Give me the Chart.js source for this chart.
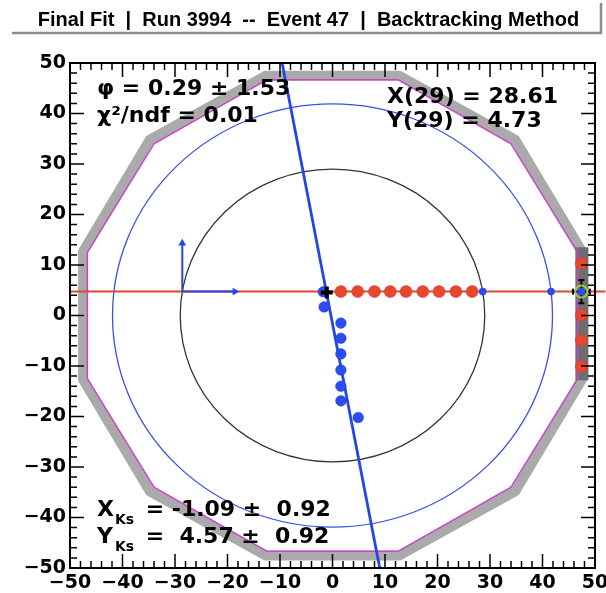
<!DOCTYPE html>
<html><head><meta charset="utf-8">
<script src="https://cdn.jsdelivr.net/npm/chart.js@4/dist/chart.umd.min.js"></script>
<style>html,body{margin:0;padding:0;background:#fff;}</style>
</head><body>
<canvas id="c" width="606" height="593"></canvas>
<script>
// ---------- data ----------
const TITLE = 'Final Fit  |  Run 3994  --  Event 47  |  Backtracking Method';
const X_TICKS = [-50,-40,-30,-20,-10,0,10,20,30,40,50];
const X_TICK_LABELS = ['\u221250','\u221240','\u221230','\u221220','\u221210','0','10','20','30','40','50'];
const Y_TICKS = [-50,-40,-30,-20,-10,0,10,20,30,40,50];
const Y_TICK_LABELS = ['\u221250','\u221240','\u221230','\u221220','\u221210','0','10','20','30','40','50'];

// detector outline (dodecagon)
const DETECTOR_X = [47.5, 34.8, 12.7, -12.7, -34.8, -47.5, -47.5, -34.8, -12.7, 12.7, 34.8, 47.5, 47.5];
const DETECTOR_Y = [12.7, 34.8, 47.5, 47.5, 34.8, 12.7, -12.7, -34.8, -47.5, -47.5, -34.8, -12.7, 12.7];
// fired module strip on the right
const STRIP_X = [47.5, 47.5];
const STRIP_Y = [13.5, -12.8];
// inner (magenta) outline
const INNER_X = [46.7, 34.0, 12.5, -12.5, -34.0, -46.7, -46.7, -34.0, -12.5, 12.5, 34.0, 46.7, 46.7];
const INNER_Y = [12.5, 34.0, 46.7, 46.7, 34.0, 12.5, -12.5, -34.0, -46.7, -46.7, -34.0, -12.5, 12.5];
// circles (center x, center y, radius)
const CIRCLE_CX = [0, 0];
const CIRCLE_CY = [0, 0];
const CIRCLE_R = [29, 41.9];
const CIRCLE_COLORS = ['#333333', '#3a4fe6'];

// horizontal (red) track
const RED_TRACK_X = [-50, 52];
const RED_TRACK_Y = [4.73, 4.73];
// steep (blue) track
const BLUE_TRACK_X = [-9.6, 9.0];
const BLUE_TRACK_Y = [50, -50];

// hits
const RED_HITS_X = [1.6, 4.8, 8.0, 11.0, 14.0, 17.2, 20.3, 23.5, 26.6, 47.4, 47.4, 47.4, 47.4];
const RED_HITS_Y = [4.73, 4.73, 4.73, 4.73, 4.73, 4.73, 4.73, 4.73, 4.73, 10.3, 0.1, -4.9, -10.1];
const BLUE_HITS_X = [-1.75, -1.6, 1.6, 1.6, 1.6, 1.6, 1.6, 1.6, 4.9];
const BLUE_HITS_Y = [4.7, 1.7, -1.5, -4.5, -7.6, -10.8, -14.0, -16.9, -20.2];
const CROSS_X = [28.61, 41.63, 47.4];
const CROSS_Y = [4.73, 4.73, 4.73];

// vertex and arrows
const VERTEX_X = [-1.09];
const VERTEX_Y = [4.57];
const ARROW_ORIGIN = [-28.61, 4.73];
const ARROW_UP_END = [-28.61, 14.3];
const ARROW_RIGHT_END = [-18.6, 4.73];

// end-point marker with errors
const END_X = [47.4];
const END_Y = [4.73];
const END_ERR_X = [1.6];
const END_ERR_Y = [2.3];

// ---------- helpers ----------
const pts = (xs, ys) => xs.map((v, i) => ({x: v, y: ys[i]}));

const lineDs = (data, color, width, order, extra) => Object.assign({
  data, showLine: true, borderColor: color, borderWidth: width, pointRadius: 0,
  fill: false, tension: 0, order
}, extra || {});

const datasets = [
  lineDs(pts(DETECTOR_X, DETECTOR_Y), '#aaaaaa', 10, 100, {borderJoinStyle: 'miter'}),
  lineDs(pts(STRIP_X, STRIP_Y), '#6e6e6e', 13, 99, {borderCapStyle: 'butt'}),
  lineDs(pts(INNER_X, INNER_Y), '#cc44cc', 1.5, 98),
  lineDs(pts(RED_TRACK_X, RED_TRACK_Y), '#dc4a2e', 2, 90, {clip: false}),
  lineDs(pts(BLUE_TRACK_X, BLUE_TRACK_Y), '#2446e6', 2.8, 89),
  lineDs([{x: ARROW_ORIGIN[0], y: ARROW_ORIGIN[1]}, {x: ARROW_UP_END[0], y: ARROW_UP_END[1]}], '#2446e6', 2, 80,
    {pointRadius: [0, 4.5], pointStyle: 'triangle', pointRotation: 0, pointBackgroundColor: '#2446e6', pointBorderWidth: 0}),
  lineDs([{x: ARROW_ORIGIN[0], y: ARROW_ORIGIN[1]}, {x: ARROW_RIGHT_END[0], y: ARROW_RIGHT_END[1]}], '#2446e6', 2, 80,
    {pointRadius: [0, 4.5], pointStyle: 'triangle', pointRotation: 90, pointBackgroundColor: '#2446e6', pointBorderWidth: 0}),
  {data: pts(RED_HITS_X, RED_HITS_Y), showLine: false, pointRadius: 6, pointBackgroundColor: '#e8472d',
    pointBorderColor: '#c93a22', pointBorderWidth: 0.5, order: 70},
  {data: pts(BLUE_HITS_X, BLUE_HITS_Y), showLine: false, pointRadius: 5.3, pointBackgroundColor: '#2a4cf0',
    pointBorderColor: '#1e3cc8', pointBorderWidth: 0.5, order: 69},
  // end marker: errors, green ring
  lineDs([{x: END_X[0], y: END_Y[0] - END_ERR_Y[0]}, {x: END_X[0], y: END_Y[0] + END_ERR_Y[0]}], '#000000', 2, 60,
    {pointRadius: 3, pointStyle: 'line', pointBorderColor: '#000', pointBorderWidth: 2}),
  lineDs([{x: END_X[0] - END_ERR_X[0], y: END_Y[0]}, {x: END_X[0] + END_ERR_X[0], y: END_Y[0]}], '#000000', 2, 60,
    {pointRadius: 3, pointStyle: 'line', pointRotation: 90, pointBorderColor: '#000', pointBorderWidth: 2}),
  {data: pts(END_X, END_Y), showLine: false, pointRadius: 6, pointBackgroundColor: 'rgba(0,0,0,0)',
    pointBorderColor: '#8fd33a', pointBorderWidth: 2, order: 55},
  {data: pts(CROSS_X, CROSS_Y), showLine: false, pointRadius: 3.8, pointBackgroundColor: '#2a4cf0',
    pointBorderWidth: 0, order: 50},
  {data: pts(VERTEX_X, VERTEX_Y), showLine: false, pointStyle: 'cross', pointRadius: 6,
    pointBorderColor: '#000000', pointBorderWidth: 4, order: 40}
];

const TXT_FONT = 'bold 22px "DejaVu Sans"';
const SUB_FONT = 'bold 14px "DejaVu Sans"';

const drawPlugin = {
  id: 'rootStyle',
  beforeDatasetsDraw(chart) {
    const {ctx, chartArea: a, scales: {x, y}} = chart;
    ctx.save();
    ctx.beginPath(); ctx.rect(a.left, a.top, a.right - a.left, a.bottom - a.top); ctx.clip();
    CIRCLE_R.forEach((r, i) => {
      const cx = x.getPixelForValue(CIRCLE_CX[i]);
      const cy = y.getPixelForValue(CIRCLE_CY[i]);
      const rx = Math.abs(x.getPixelForValue(CIRCLE_CX[i] + r) - cx);
      const ry = Math.abs(y.getPixelForValue(CIRCLE_CY[i] + r) - cy);
      ctx.beginPath();
      ctx.ellipse(cx, cy, rx, ry, 0, 0, Math.PI * 2);
      ctx.strokeStyle = CIRCLE_COLORS[i];
      ctx.lineWidth = 1.3;
      ctx.stroke();
    });
    ctx.restore();
  },
  afterDraw(chart) {
    const {ctx, chartArea: a, scales: {x, y}} = chart;
    ctx.save();
    // frame
    ctx.strokeStyle = '#000'; ctx.lineWidth = 2;
    ctx.strokeRect(a.left, a.top, a.right - a.left, a.bottom - a.top);
    // ticks (inside, all four sides)
    ctx.lineWidth = 1.5;
    ctx.beginPath();
    for (let v = X_TICKS[0]; v <= X_TICKS[X_TICKS.length - 1] + 1e-9; v += 2) {
      const major = X_TICKS.includes(v);
      const len = major ? 14 : 7;
      const px = x.getPixelForValue(v);
      ctx.moveTo(px, a.bottom); ctx.lineTo(px, a.bottom - len);
      ctx.moveTo(px, a.top); ctx.lineTo(px, a.top + len);
    }
    for (let v = Y_TICKS[0]; v <= Y_TICKS[Y_TICKS.length - 1] + 1e-9; v += 2) {
      const major = Y_TICKS.includes(v);
      const len = major ? 14 : 7;
      const py = y.getPixelForValue(v);
      ctx.moveTo(a.left, py); ctx.lineTo(a.left + len, py);
      ctx.moveTo(a.right, py); ctx.lineTo(a.right - len, py);
    }
    ctx.stroke();

    // texts
    ctx.fillStyle = '#000';
    ctx.textBaseline = 'alphabetic';
    ctx.textAlign = 'left';
    ctx.font = TXT_FONT;
    ctx.fillText('\u03C6 = 0.29 \u00B1 1.53', 97, 95);
    ctx.fillText('\u03C7\u00B2/ndf = 0.01', 97, 122);
    ctx.fillText('X(29) = 28.61', 387, 103);
    ctx.fillText('Y(29) = 4.73', 387, 127);
    ctx.fillText('X', 97, 516);
    ctx.fillText('Y', 97, 543);
    ctx.font = SUB_FONT;
    ctx.fillText('Ks', 115, 524);
    ctx.fillText('Ks', 115, 551);
    ctx.font = TXT_FONT;
    ctx.fillText(' = -1.09 \u00B1  0.92', 138, 516);
    ctx.fillText(' =  4.57 \u00B1  0.92', 138, 543);

    // title box shadow
    ctx.strokeStyle = '#8c8c8c'; ctx.lineWidth = 2.5;
    ctx.beginPath();
    ctx.moveTo(12, 33); ctx.lineTo(601, 33); ctx.lineTo(601, 3);
    ctx.stroke();
    ctx.font = 'bold 20px "Liberation Sans", Arial, sans-serif';
    ctx.textAlign = 'center';
    ctx.fillText(TITLE, 308.5, 26);
    ctx.restore();
  }
};

new Chart(document.getElementById('c'), {
  type: 'scatter',
  data: {datasets},
  options: {
    responsive: false,
    animation: false,
    devicePixelRatio: 1,
    layout: {padding: {left: 20, right: 11, top: 63, bottom: 0}},
    plugins: {legend: {display: false}, tooltip: {enabled: false}, title: {display: false}},
    scales: {
      x: {
        type: 'linear', min: -50, max: 50,
        grid: {display: false, drawTicks: false},
        border: {display: false},
        afterBuildTicks: s => { s.ticks = X_TICKS.map(v => ({value: v})); },
        afterFit: s => { s.height = 25; s.paddingLeft = 0; s.paddingRight = 0; },
        ticks: {
          autoSkip: false, maxRotation: 0, padding: 4, color: '#000',
          font: {family: 'DejaVu Sans', weight: 'bold', size: 19},
          callback: (v, i) => X_TICK_LABELS[i]
        }
      },
      y: {
        type: 'linear', min: -50, max: 50,
        grid: {display: false, drawTicks: false},
        border: {display: false},
        afterBuildTicks: s => { s.ticks = Y_TICKS.map(v => ({value: v})); },
        afterFit: s => { s.width = 50; s.paddingTop = 0; s.paddingBottom = 0; },
        ticks: {
          autoSkip: false, padding: 4, color: '#000',
          font: {family: 'DejaVu Sans', weight: 'bold', size: 19},
          callback: (v, i) => Y_TICK_LABELS[i]
        }
      }
    }
  },
  plugins: [drawPlugin]
});
</script>
</body></html>
